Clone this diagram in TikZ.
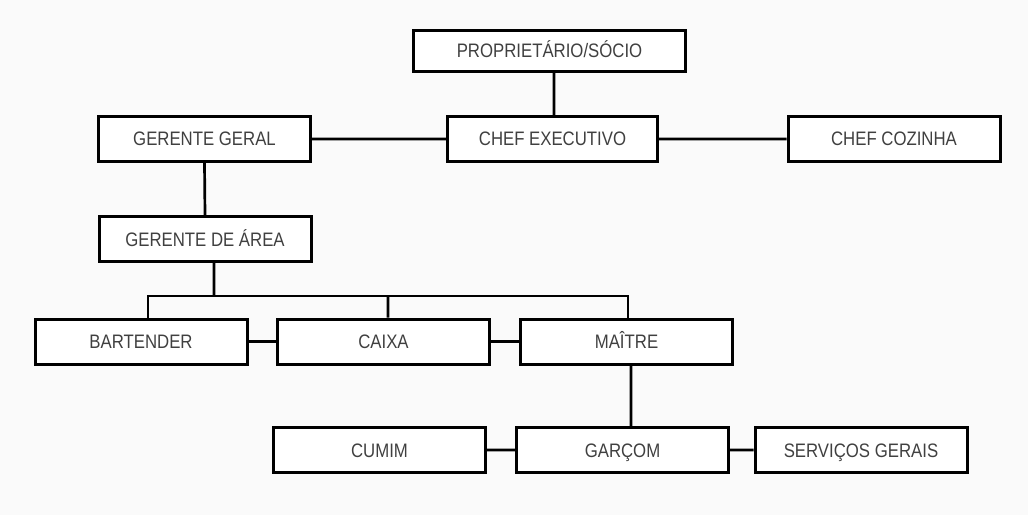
\documentclass[tikz,border=0pt]{standalone}
\usepackage{fontspec}
\setmainfont{Liberation Sans}[FakeStretch=0.86]
\usepackage{xcolor}
\usetikzlibrary{positioning}
\definecolor{bgpage}{RGB}{250,250,250}
\definecolor{txtgray}{RGB}{64,64,64}

\begin{document}
\begin{tikzpicture}[x=1pt, y=1pt,
        cargo/.style={draw, rectangle, line width=3pt, fill=white, text=txtgray,
            minimum width=212pt, minimum height=45pt, inner sep=0pt,
            text height=14pt, text depth=0pt, font=\fontsize{19.5}{20}\selectfont},
        liga/.style={line width=2.7pt}]
        \fill[bgpage] (0, 0) rectangle (1028, 515);
        \useasboundingbox (0, 0) rectangle (1028, 515);

        \node[cargo, minimum width=272pt, minimum height=41pt] (socio) at (549.5, 464) {PROPRIETÁRIO/SÓCIO};
        \node[cargo] (geral) at (204.5, 376) {GERENTE GERAL};
        \node[cargo, minimum width=210pt] (chefexec) at (552.5, 376) {CHEF EXECUTIVO};
        \node[cargo] (chefcoz) at (894, 376) {CHEF COZINHA};
        \node[cargo] (area) at (205, 276) {GERENTE DE ÁREA};
        \node[cargo] (bartender) at (141, 173.5) {BARTENDER};
        \node[cargo] (caixa) at (383.5, 173.5) {CAIXA};
        \node[cargo] (maitre) at (626.5, 173.5) {MAÎTRE};
        \node[cargo] (cumim) at (379.5, 65) {CUMIM};
        \node[cargo] (garcom) at (622.5, 65) {GARÇOM};
        \node[cargo] (servicos) at (861, 65) {SERVIÇOS GERAIS};
        \coordinate (barra) at (0, 219);

        \draw[liga] ([xshift=1.5pt]chefexec.north) to ([xshift=1.5pt]chefexec.north |- socio.south)
            (geral.east) to (chefexec.west)
            (chefexec.east) to (chefcoz.west)
            (geral.south) to (area.north)
            ([xshift=9pt]area.south) to ([xshift=9pt]area.south |- barra)
            ([xshift=4.5pt]caixa.north) to ([xshift=4.5pt]caixa.north |- barra)
            (bartender.east) to (caixa.west)
            (caixa.east) to (maitre.west)
            ([xshift=4.5pt]maitre.south) to ([xshift=4.5pt]maitre.south |- garcom.north)
            (cumim.east) to (garcom.west)
            (garcom.east) to (servicos.west);
        \draw[liga] ([xshift=7pt]bartender.north) |- ([xshift=1.5pt]maitre.north |- barra)
            -- ([xshift=1.5pt]maitre.north);
    \end{tikzpicture}
\end{document}
